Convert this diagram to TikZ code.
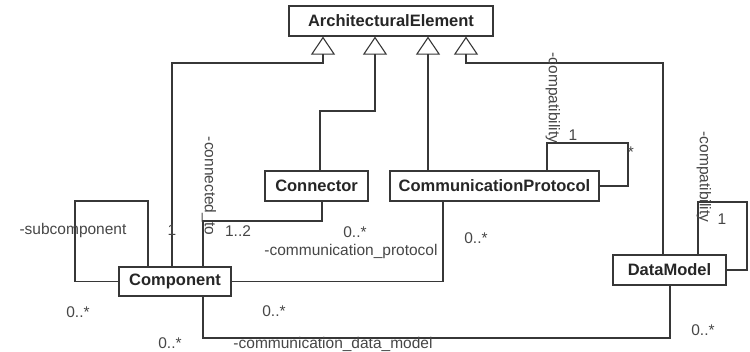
\documentclass[tikz,border=0pt]{standalone}
\usepackage{fontspec}
\setmainfont{Liberation Sans}
\usetikzlibrary{arrows.meta}
\definecolor{linec}{RGB}{55,55,55}
\definecolor{labelc}{RGB}{70,70,70}
\tikzset{
  cls/.style={draw=linec, line width=1.2pt, fill=white, inner sep=0pt,
    font=\fontsize{16.5}{19}\selectfont\bfseries, text=black!85},
  assoc/.style={draw=linec, line width=1.2pt},
  gen/.style={assoc, -{Triangle[open, length=18pt, width=24pt, line width=1.1pt]}},
  lbl/.style={inner sep=0pt, font=\fontsize{15.5}{18}\selectfont, text=labelc},
}
\begin{document}
\begin{tikzpicture}[x=1pt, y=-1pt]
  \useasboundingbox (0,0) rectangle (750,351);

  % classes
  \node[cls, minimum width=204pt, minimum height=30pt] (ae)   at (391,21)    {ArchitecturalElement};
  \node[cls, minimum width=103pt, minimum height=30pt] (conn) at (316.5,186) {Connector};
  \node[cls, minimum width=209pt, minimum height=30pt] (cp)   at (494.5,186) {CommunicationProtocol};
  \node[cls, minimum width=112pt, minimum height=29pt] (comp) at (175,281.5) {Component};
  \node[cls, minimum width=113pt, minimum height=30pt] (dm)   at (669.5,270) {DataModel};

  % bend points
  \coordinate (g1)  at (172,63);
  \coordinate (g1t) at (323,63);
  \coordinate (g2)  at (320,111);
  \coordinate (g2t) at (375,111);
  \coordinate (g3)  at (428,100);
  \coordinate (g4)  at (663,63);
  \coordinate (g4t) at (466,63);
  \coordinate (sc1) at (148,201);
  \coordinate (sc2) at (75,201);
  \coordinate (ct1) at (203,221);
  \coordinate (ct2) at (322,221);
  \coordinate (pp)  at (443,281.5);
  \coordinate (dd1) at (203,338);
  \coordinate (dd2) at (670,338);
  \coordinate (cl1) at (547,143);
  \coordinate (cl2) at (628,143);
  \coordinate (dl1) at (698,202);
  \coordinate (dl2) at (747,202);

  % generalizations
  \draw[gen] (comp.north -| g1) -- (g1) -- (g1t) -- (ae.south -| g1t);
  \draw[gen] (conn.north -| g2) -- (g2) -- (g2t) -- (ae.south -| g2t);
  \draw[gen] (cp.north -| g3) -- (ae.south -| g3);
  \draw[gen] (dm.north -| g4) -- (g4) -- (g4t) -- (ae.south -| g4t);

  % associations
  \draw[assoc] (comp.north -| sc1) -- (sc1) -- (sc2) |- (comp.west);
  \draw[assoc] (comp.north -| ct1) -- (ct1) -- (ct2) -- (conn.south -| ct2);
  \draw[assoc] (comp.east) -- (pp) -- (cp.south -| pp);
  \draw[assoc] (comp.south -| dd1) -- (dd1) -- (dd2) -- (dm.south -| dd2);
  \draw[assoc] (cp.north -| cl1) -- (cl1) -- (cl2) |- (cp.east);
  \draw[assoc] (dm.north -| dl1) -- (dl1) -- (dl2) |- (dm.east);

  % role names and multiplicities
  \node[lbl] (l1)  at (73,230)  {-subcomponent};
  \node[lbl] (l2)  at (172,230) {1};
  \node[lbl] (l3)  at (78,312)  {0..*};
  \node[lbl, rotate=-90] (l4) at (209,186) {-connected\_to};
  \node[lbl] (l5)  at (238,231) {1..2};
  \node[lbl] (l6)  at (355,232) {0..*};
  \node[lbl] (l7)  at (351,251) {-communication\_protocol};
  \node[lbl] (l8)  at (476,238) {0..*};
  \node[lbl] (l9)  at (274,311) {0..*};
  \node[lbl] (l10) at (170,343) {0..*};
  \node[lbl] (l11) at (333,344) {-communication\_data\_model};
  \node[lbl] (l12) at (703,330) {0..*};
  \node[lbl, rotate=-90] (l13) at (553,98) {-compatibility};
  \node[lbl] (l14) at (573,135) {1};
  \node[lbl] (l15) at (631,152) {*};
  \node[lbl, rotate=-90] (l16) at (704,177) {-compatibility};
  \node[lbl] (l17) at (722,219) {1};
\end{tikzpicture}
\end{document}
